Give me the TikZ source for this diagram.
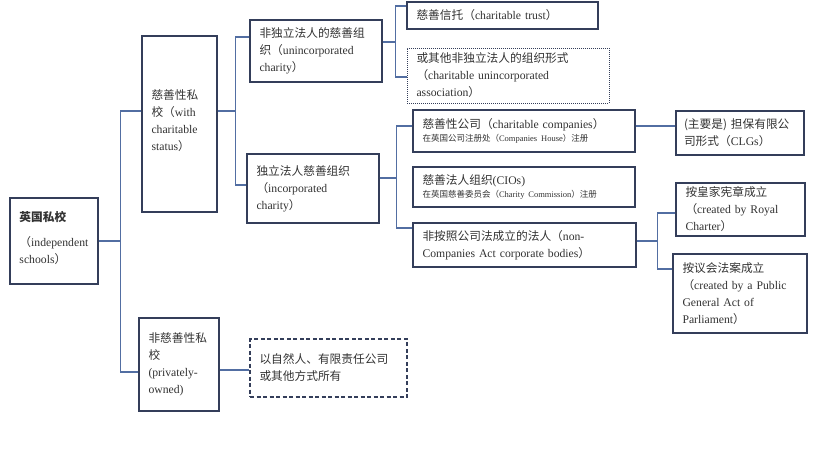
\documentclass[tikz,border=0pt]{standalone}
\usepackage{fontspec}
\setmainfont{Liberation Serif}
\newfontfamily\cjk{Noto Sans CJK SC}
\newcommand{\zh}[1]{{\cjk #1}}
\hyphenpenalty=10000
\exhyphenpenalty=10000
\definecolor{boxc}{RGB}{52,62,90}
\definecolor{linec}{RGB}{82,110,162}
\definecolor{txt}{RGB}{50,50,50}
\tikzset{
  bx/.style={draw=boxc, line width=1.2pt, text=txt, inner xsep=9.5pt, inner ysep=0pt,
    align=left, font=\fontsize{11.7}{17}\selectfont},
  conn/.style={draw=linec, line width=1.1pt},
  dashbox/.style={dash pattern=on 4pt off 2.5pt, line width=1.1pt},
  dotbox/.style={dash pattern=on 1pt off 1pt, line width=0.9pt}
}
\newcommand{\smallline}{\fontsize{8.5}{10}\selectfont}
\begin{document}
\begin{tikzpicture}[x=1pt,y=-1pt]
\useasboundingbox (0,0) rectangle (835,458);
% nodes
\node[bx, text width=69pt, minimum height=86pt] (root) at (54,241)
  {{\cjk\bfseries 英国私校}\\[8pt]\zh{（}independent\\schools\zh{）}\vspace*{6pt}};
\node[bx, text width=56pt, minimum height=176pt] (charity) at (179.5,124)
  {\zh{慈善性私}\\\zh{校（}with\\charitable\\status\zh{）}\vspace*{6pt}};
\node[bx, text width=61pt, minimum height=93pt] (noncharity) at (179,364.5)
  {\zh{非慈善性私}\\\zh{校}\\(privately-\\owned)};
\node[bx, dashbox, text width=138pt, minimum height=58pt] (owned) at (328.5,368)
  {\zh{以自然人、有限责任公司}\\\zh{或其他方式所有}};
\node[bx, text width=113pt, minimum height=62pt] (unincorp) at (316,51)
  {\zh{非独立法人的慈善组}\\\zh{织（}unincorporated\\charity\zh{）}};
\node[bx, text width=113pt, minimum height=69pt] (incorp) at (313,188.5)
  {\zh{独立法人慈善组织}\\\zh{（}incorporated\\charity\zh{）}};
\node[bx, text width=172pt, minimum height=27pt] (trust) at (502.5,15.5)
  {\zh{慈善信托（}charitable trust\zh{）}};
\node[bx, dotbox, text width=183pt, minimum height=55pt] (other) at (508,75.5)
  {\zh{或其他非独立法人的组织形式}\\\zh{（}charitable unincorporated\\association\zh{）}};
\node[bx, text width=203pt, minimum height=42pt] (companies) at (524,131)
  {\zh{慈善性公司（}charitable companies\zh{）}\\[-4pt]{\smallline\zh{在英国公司注册处（}Companies House\zh{）注册}}};
\node[bx, text width=203pt, minimum height=40pt] (cios) at (524,187)
  {\zh{慈善法人组织}(CIOs)\\[-4pt]{\smallline\zh{在英国慈善委员会（}Charity Commission\zh{）注册}}};
\node[bx, text width=204pt, minimum height=44pt] (noncomp) at (524.5,245)
  {\zh{非按照公司法成立的法人（}non-\\Companies Act corporate bodies\zh{）}};
\node[bx, inner xsep=8pt, text width=112pt, minimum height=44pt] (clg) at (740,133)
  {\zh{(主要是)~担保有限公}\\\zh{司形式（}CLGs\zh{）}};
\node[bx, text width=110pt, minimum height=53pt] (royal) at (740.5,209.5)
  {\zh{按皇家宪章成立}\\\zh{（}created by Royal\\Charter\zh{）}};
\node[bx, text width=115pt, minimum height=79pt] (parl) at (740,293.5)
  {\zh{按议会法案成立}\\\zh{（}created by a Public\\General Act of\\Parliament\zh{）}};
% connectors
\draw[conn] (root.east) -- ++(22,0) coordinate (s1);
\draw[conn] ([yshift=13pt]charity.west) -| (s1) |- ([yshift=-7.5pt]noncharity.west);
\draw[conn] ([yshift=13pt]charity.east) -- ++(18,0) coordinate (s2);
\draw[conn] ([yshift=14pt]unincorp.west) -| (s2) |- ([yshift=3.5pt]incorp.west);
\draw[conn] ([yshift=9pt]unincorp.east) -- ++(13,0) coordinate (s3);
\draw[conn] ([yshift=9.5pt]trust.west) -| (s3) |- ([yshift=-1.5pt]other.west);
\draw[conn] ([yshift=10.5pt]incorp.east) -- ++(17,0) coordinate (s4);
\draw[conn] ([yshift=5pt]companies.west) -| (s4) |- ([yshift=17pt]noncomp.west);
\coordinate (co) at ([yshift=5pt]companies.east);
\draw[conn] (co) -- (co -| clg.west);
\draw[conn] ([yshift=4pt]noncomp.east) -- ++(21,0) coordinate (s5);
\draw[conn] ([yshift=-3.5pt]royal.west) -| (s5) |- ([yshift=24.5pt]parl.west);
\coordinate (nco) at ([yshift=-5.5pt]noncharity.east);
\draw[conn] (nco) -- (nco -| owned.west);
\end{tikzpicture}
\end{document}
